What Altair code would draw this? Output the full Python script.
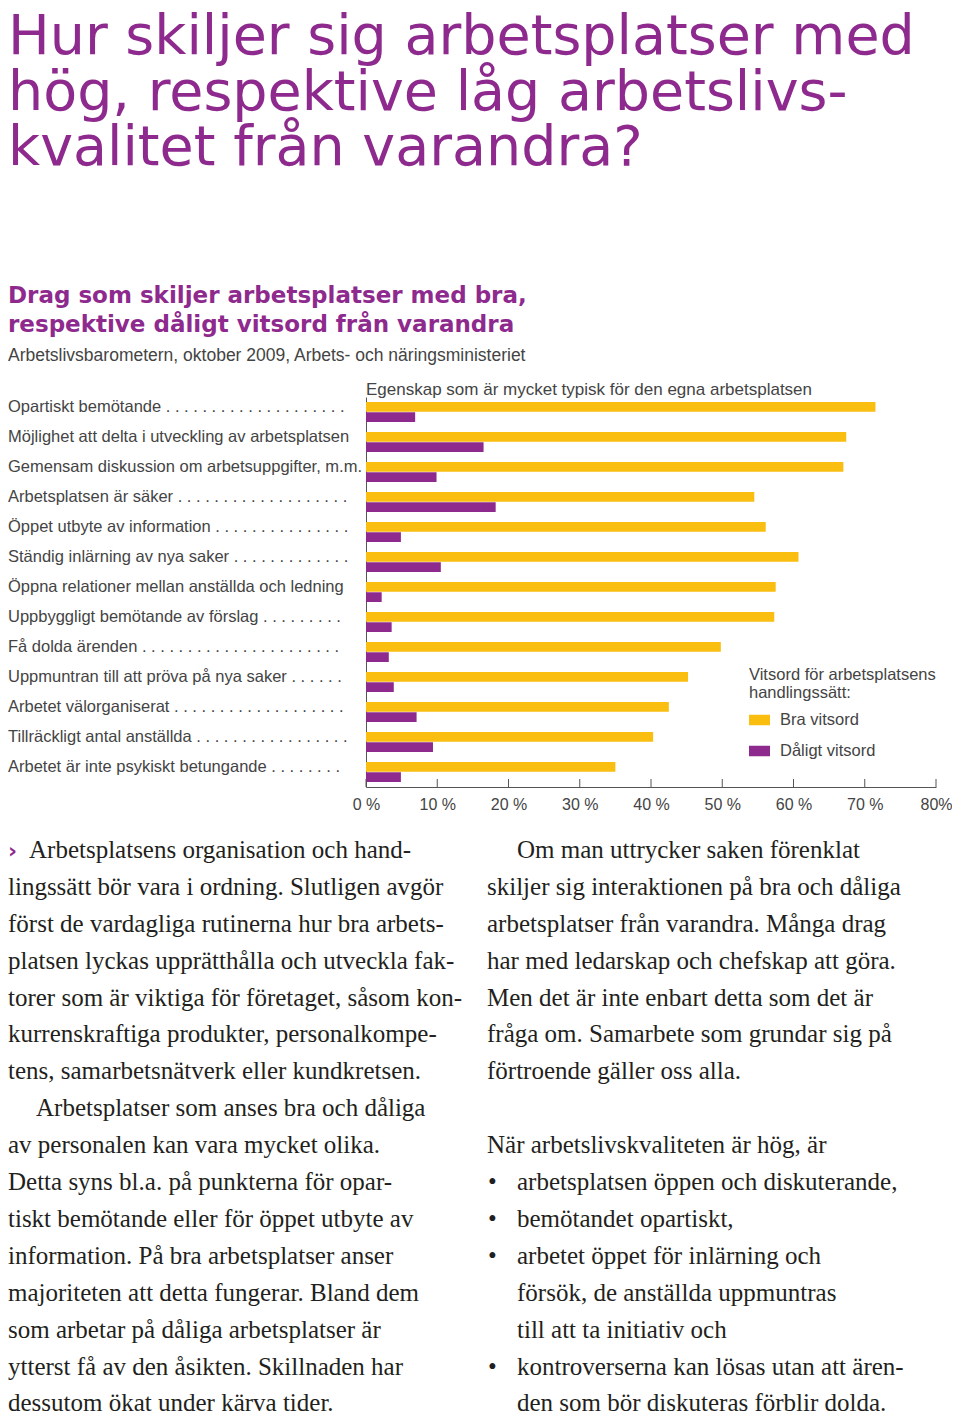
import altair as alt
import pandas as pd

# ---------------- data ----------------
categories = [
    "Opartiskt bemötande",
    "Möjlighet att delta i utveckling av arbetsplatsen",
    "Gemensam diskussion om arbetsuppgifter, m.m.",
    "Arbetsplatsen är säker",
    "Öppet utbyte av information",
    "Ständig inlärning av nya saker",
    "Öppna relationer mellan anställda och ledning",
    "Uppbyggligt bemötande av förslag",
    "Få dolda ärenden",
    "Uppmuntran till att pröva på nya saker",
    "Arbetet välorganiserat",
    "Tillräckligt antal anställda",
    "Arbetet är inte psykiskt betungande",
]
leader_dots = [20, 0, 0, 19, 15, 13, 0, 9, 22, 6, 19, 17, 8]
bra_vitsord = [71.5, 67.4, 67.0, 54.5, 56.1, 60.7, 57.5, 57.3, 49.8, 45.2, 42.5, 40.3, 35.0]
daligt_vitsord = [6.9, 16.5, 9.9, 18.2, 4.9, 10.5, 2.2, 3.6, 3.2, 3.9, 7.1, 9.4, 4.9]
series_names = ["Bra vitsord", "Dåligt vitsord"]
series_colors = ["#F9BE10", "#8E2A8E"]
x_ticks = [0, 10, 20, 30, 40, 50, 60, 70, 80]

title_lines = [
    "Hur skiljer sig arbetsplatser med",
    "hög, respektive låg arbetslivs-",
    "kvalitet från varandra?",
]
subtitle_lines = [
    "Drag som skiljer arbetsplatser med bra,",
    "respektive dåligt vitsord från varandra",
]
source_text = "Arbetslivsbarometern, oktober 2009, Arbets- och näringsministeriet"
chart_heading = "Egenskap som är mycket typisk för den egna arbetsplatsen"
legend_title = ["Vitsord för arbetsplatsens", "handlingssätt:"]

left_col = [
    "Arbetsplatsens organisation och hand-",
    "lingssätt bör vara i ordning. Slutligen avgör",
    "först de vardagliga rutinerna hur bra arbets-",
    "platsen lyckas upprätthålla och utveckla fak-",
    "torer som är viktiga för företaget, såsom kon-",
    "kurrenskraftiga produkter, personalkompe-",
    "tens, samarbetsnätverk eller kundkretsen.",
    "Arbetsplatser som anses bra och dåliga",
    "av personalen kan vara mycket olika.",
    "Detta syns bl.a. på punkterna för opar-",
    "tiskt bemötande eller för öppet utbyte av",
    "information. På bra arbetsplatser anser",
    "majoriteten att detta fungerar. Bland dem",
    "som arbetar på dåliga arbetsplatser är",
    "ytterst få av den åsikten. Skillnaden har",
    "dessutom ökat under kärva tider.",
]
right_intro = [
    "Om man uttrycker saken förenklat",
    "skiljer sig interaktionen på bra och dåliga",
    "arbetsplatser från varandra. Många drag",
    "har med ledarskap och chefskap att göra.",
    "Men det är inte enbart detta som det är",
    "fråga om. Samarbete som grundar sig på",
    "förtroende gäller oss alla.",
]
right_lead = "När arbetslivskvaliteten är hög, är"
right_bullets = [
    "arbetsplatsen öppen och diskuterande,",
    "bemötandet opartiskt,",
    "arbetet öppet för inlärning och",
    "försök, de anställda uppmuntras",
    "till att ta initiativ och",
    "kontroverserna kan lösas utan att ären-",
    "den som bör diskuteras förblir dolda.",
]
bullet_rows = [0, 1, 2, 5]

# ---------------- tables ----------------
rows = []
for c, b, d in zip(categories, bra_vitsord, daligt_vitsord):
    rows.append({"cat": c, "serie": series_names[0], "val": b})
    rows.append({"cat": c, "serie": series_names[1], "val": d})
bars_df = pd.DataFrame(rows)

labels_df = pd.DataFrame({
    "cat": categories,
    "label": [c + ((" " + " ".join(["."] * n)) if n else "") for c, n in zip(categories, leader_dots)],
})
ticks_df = pd.DataFrame({"val": x_ticks})
one = pd.DataFrame({"k": [0]})

# ---------------- layout constants ----------------
W, H = 944, 1408
PURPLE = "#8E2A8E"
GRAY = "#444444"
BODY = "#231F20"
SANS = "Liberation Sans"
SERIF = "Liberation Serif"
AX_Y = 779
LH = 36.9
BODY_Y0 = 850
BFS = 25
TITLE_Y0 = 46
TITLE_LH = 55.5

x_scale = alt.Scale(domain=[0, 80], range=[358, 928], nice=False, zero=True)
y_scale = alt.Scale(domain=categories, range=[389, AX_Y], paddingInner=0.3333, paddingOuter=0.1667)

x_axis = alt.Axis(values=x_ticks, offset=-(H - AX_Y), ticks=False, grid=False, domainColor="#555555",
                  domainWidth=1, labelPadding=9, labelFont=SANS, labelFontSize=16, labelColor=GRAY,
                  labelFlush=False,
                  labelExpr="datum.value == 80 ? '80%' : datum.value + ' %'", title=None)
y_axis = alt.Axis(labels=False, ticks=False, grid=False, domainColor="#555555", domainWidth=1,
                  offset=-358, title=None)

bars = alt.Chart(bars_df).mark_bar().encode(
    x=alt.X("val:Q", scale=x_scale, axis=x_axis),
    y=alt.Y("cat:N", scale=y_scale, sort=categories, axis=y_axis),
    yOffset=alt.YOffset("serie:N", scale=alt.Scale(domain=series_names, paddingInner=0.05)),
    color=alt.Color("serie:N", scale=alt.Scale(domain=series_names, range=series_colors),
                    legend=alt.Legend(orient="none", legendX=741, legendY=659, title=legend_title,
                                      titleFont=SANS, titleFontSize=16.5, titleFontWeight="normal",
                                      titleColor=GRAY, titleLineHeight=18, titlePadding=8,
                                      titleLimit=400, labelLimit=400,
                                      labelFont=SANS, labelFontSize=16.5, labelColor=GRAY,
                                      symbolType="M-1,-0.5H1V0.5H-1Z", symbolSize=441,
                                      symbolStrokeWidth=0, rowPadding=12, labelOffset=10,
                                      padding=0)),
)

tick_rules = alt.Chart(ticks_df).mark_rule(color="#555555", strokeWidth=1).encode(
    x=alt.X("val:Q", scale=x_scale, axis=x_axis),
    y=alt.value(AX_Y - 8),
    y2=alt.value(AX_Y),
)

bar_labels = alt.Chart(labels_df).mark_text(
    align="left", baseline="middle", dy=-5, font=SANS, fontSize=16.5, color=GRAY
).encode(
    x=alt.value(0),
    y=alt.Y("cat:N", scale=y_scale, sort=categories, axis=y_axis),
    text="label:N",
)


def txt(lines, x, y, **kw):
    return alt.Chart(one).mark_text(align="left", baseline="alphabetic", **kw).encode(
        x=alt.value(x), y=alt.value(y), text=alt.value(lines)
    )


def body(lines, x, row):
    return txt(lines, x, BODY_Y0 + row * LH, font=SERIF, fontSize=BFS, color=BODY, lineHeight=LH)


layers = [bars, tick_rules, bar_labels]
for i, line in enumerate(title_lines):
    layers.append(txt(line, 0, TITLE_Y0 + i * TITLE_LH, font="DejaVu Sans", fontSize=55.5, color=PURPLE))
layers += [
    txt(subtitle_lines, 0, 295, font="DejaVu Sans", fontWeight="bold", fontSize=23, color=PURPLE, lineHeight=28.5),
    txt([source_text], 0, 353, font=SANS, fontSize=17.5, color=GRAY),
    txt([chart_heading], 358, 387, font=SANS, fontSize=17, color=GRAY),
    # left column
    txt(["›"], 0, BODY_Y0, font="DejaVu Sans", fontWeight="bold", fontSize=22, color=PURPLE),
    body([left_col[0]], 21, 0),
    body(left_col[1:7], 0, 1),
    body([left_col[7]], 28, 7),
    body(left_col[8:], 0, 8),
    # right column
    body([right_intro[0]], 509, 0),
    body(right_intro[1:], 479, 1),
    body([right_lead], 479, 8),
    body(right_bullets, 509, 9),
]
for r in bullet_rows:
    layers.append(body(["•"], 480, 9 + r))

chart = alt.layer(*layers).properties(
    width=W, height=H, autosize=alt.AutoSizeParams(type="none"), padding=0, background="white"
).configure_view(stroke=None)

chart.save("out.html", embed_options={"renderer": "svg", "actions": False})
